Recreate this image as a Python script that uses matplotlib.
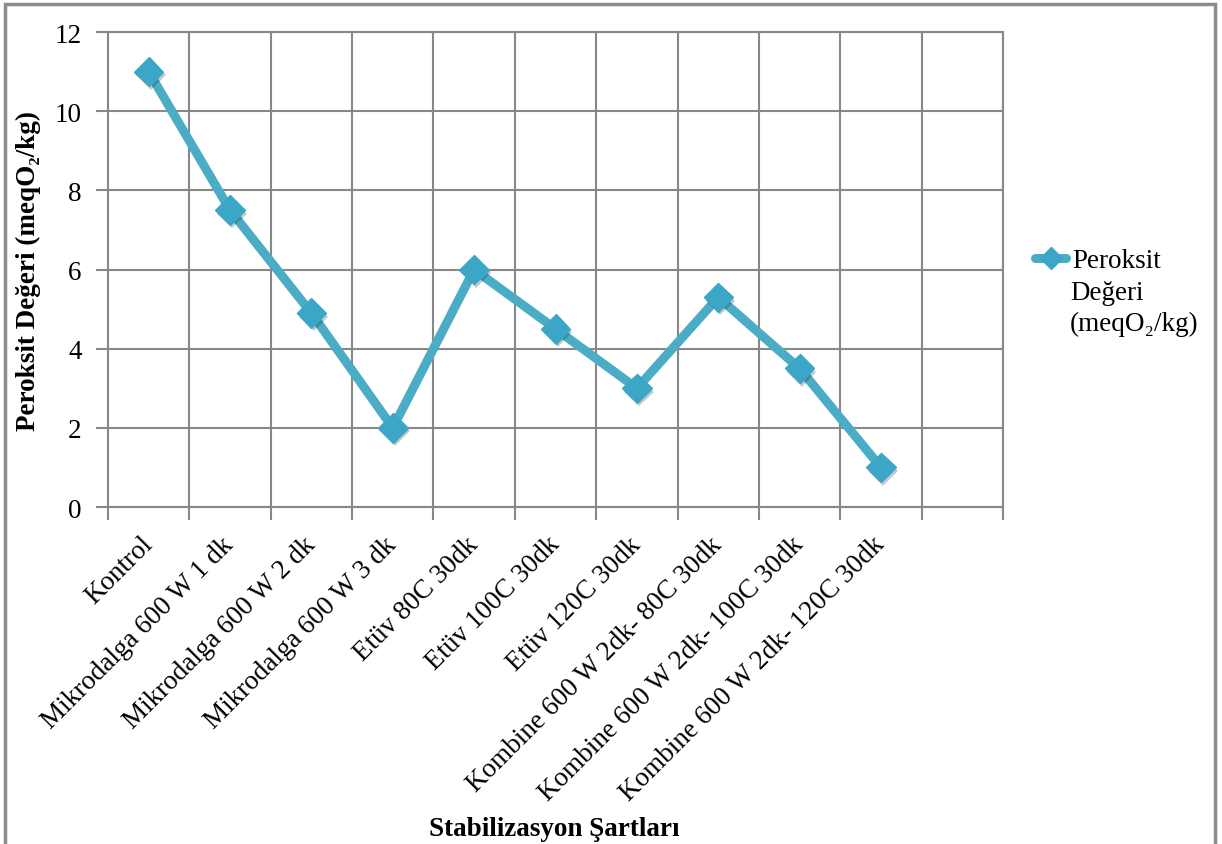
import matplotlib
matplotlib.use("Agg")
import matplotlib.pyplot as plt
import matplotlib.patheffects as pe
from matplotlib.patches import Rectangle
import numpy as np

plt.rcParams["font.family"] = ["Liberation Serif", "DejaVu Serif"]

categories = [
    "Kontrol",
    "Mikrodalga 600 W 1 dk",
    "Mikrodalga 600 W 2 dk",
    "Mikrodalga 600 W 3 dk",
    "Etüv 80C 30dk",
    "Etüv 100C 30dk",
    "Etüv 120C 30dk",
    "Kombine 600 W 2dk- 80C 30dk",
    "Kombine 600 W 2dk- 100C 30dk",
    "Kombine 600 W 2dk- 120C 30dk",
]
peroxide = [11, 7.5, 4.9, 2, 6, 4.5, 3, 5.3, 3.5, 1]
n_slots = 11  # one empty category slot at the end
y_ticks = [0, 2, 4, 6, 8, 10, 12]

line_color = "#4BACC6"
marker_color = "#3BA6C6"
grid_color = "#888888"
fs = 19.5

fig = plt.figure(figsize=(12.22, 8.45), dpi=100)
ax = fig.add_axes([0.0884, 0.3988, 0.7324, 0.5621])

x = np.arange(len(peroxide))
ax.plot(x, peroxide, color=line_color, linewidth=6.5, solid_capstyle="round",
        zorder=3)
ax.plot(x, peroxide, linestyle="none", marker="D", markersize=15,
        color=marker_color, markeredgecolor=marker_color, zorder=4,
        path_effects=[pe.SimplePatchShadow(offset=(1.5, -2.5), alpha=0.25),
                      pe.Normal()])

ax.set_xlim(-0.5, n_slots - 0.5)
ax.set_ylim(0, 12)
ax.set_yticks(y_ticks)
ax.set_xticks(np.arange(n_slots + 1) - 0.5)
ax.set_xticklabels([])
ax.set_xticks(x, minor=True)
ax.set_xticklabels(categories, minor=True, rotation=45, ha="right",
                   va="center", rotation_mode="anchor", fontsize=fs)
ax.tick_params(axis="x", which="minor", length=0, pad=24)
ax.tick_params(axis="x", which="major", length=9, width=1.5, color=grid_color)
ax.tick_params(axis="y", length=9, width=1.5, color=grid_color, labelsize=fs,
               pad=10)

ax.grid(True, which="major", color=grid_color, linewidth=1.5)
ax.set_axisbelow(True)
for spine in ax.spines.values():
    spine.set_color(grid_color)
    spine.set_linewidth(1.5)

ax.set_ylabel("Peroksit Değeri (meqO₂/kg)", fontsize=19.5, fontweight="bold",
              labelpad=10)
fig.text(554 / 1222, 1 - 830 / 845, "Stabilizasyon Şartları", fontsize=19.5,
         fontweight="bold", ha="center", va="center")

leg = ax.legend([ax.lines[0]], ["Peroksit"], loc="upper left",
                bbox_to_anchor=(1.036, 0.545), frameon=False, fontsize=fs,
                handlelength=1.15, handletextpad=0.2, borderaxespad=0,
                borderpad=0)
leg.legend_handles[0].set_marker("D")
leg.legend_handles[0].set_markersize(11)
leg.legend_handles[0].set_markerfacecolor(marker_color)
leg.legend_handles[0].set_markeredgecolor(marker_color)
fig.text(1070 / 1222, 1 - 281 / 845, "Değeri\n(meqO₂/kg)", fontsize=fs,
         va="top", ha="left", linespacing=1.3)

# outer chart frame
fig.patches.append(Rectangle((5 / 1222, -0.05), 1210 / 1222, 1.05 - 5 / 845,
                             transform=fig.transFigure, fill=False,
                             edgecolor="#8c8c8c", linewidth=2.5))

fig.savefig("out.png", dpi=100)
